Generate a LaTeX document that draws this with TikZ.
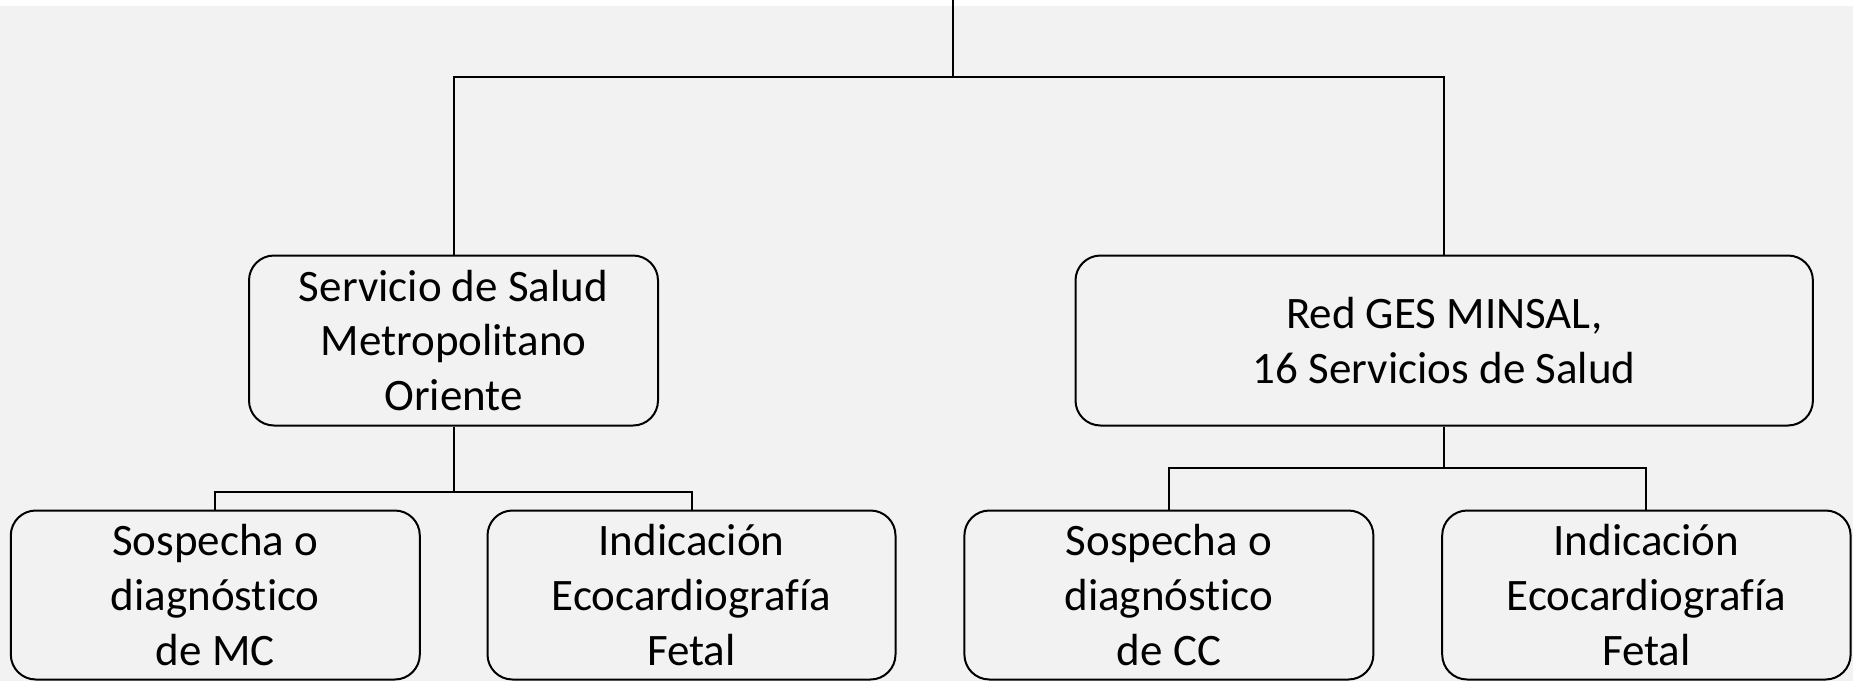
\documentclass[tikz,border=0pt]{standalone}
\usepackage{fontspec}
\setmainfont{Carlito}[Ligatures=NoCommon]
\usepackage{tikz}

\definecolor{fondo}{HTML}{F2F2F2}

\begin{document}
\begin{tikzpicture}[x=0.5pt,y=-0.5pt,
    caja/.style={shape=rectangle,draw=black,line width=1pt,rounded corners=12.5pt,
        align=center,inner sep=0pt,minimum height=85pt,
        font=\fontsize{22.5}{27.4}\selectfont},
    linea/.style={draw=black,line width=1pt}]
    \useasboundingbox (0,0) rectangle (1853,681);
    \fill[fondo] (0,6) rectangle (1853,681);
    % nivel 1
    \node[caja,minimum width=204.5pt] (ssmo) at (453.5,340.5) {Servicio de Salud\\Metropolitano\\Oriente};
    \node[caja,minimum width=368.7pt] (red) at (1444.2,340.5) {Red GES MINSAL,\\16 Servicios de Salud};
    % nivel 2
    \node[caja,minimum width=204.5pt,minimum height=84.5pt] (mc) at (215.3,595) {Sospecha o\\diagnóstico\\de MC};
    \node[caja,minimum width=204pt,minimum height=84.5pt] (ecoA) at (691.5,595) {Indicación\\Ecocardiografía\\Fetal};
    \node[caja,minimum width=204.5pt,minimum height=84.5pt] (cc) at (1168.9,595) {Sospecha o\\diagnóstico\\de CC};
    \node[caja,minimum width=204.2pt,minimum height=84.5pt] (ecoB) at (1646.4,595) {Indicación\\Ecocardiografía\\Fetal};
    % conectores
    \coordinate (arriba) at (952.5,0);
    \coordinate (hub) at (952.5,76.8);
    \coordinate (j1) at (453.5,491.6);
    \coordinate (j2) at (1444.2,468.3);
    \draw[linea] (arriba) -- (hub);
    \draw[linea] (ssmo.north) |- (hub) -| (red.north);
    \draw[linea] (ssmo.south) -- (j1);
    \draw[linea] (mc.north) |- (j1) -| (ecoA.north);
    \draw[linea] (red.south) -- (j2);
    \draw[linea] (cc.north) |- (j2) -| (ecoB.north);
\end{tikzpicture}
\end{document}
